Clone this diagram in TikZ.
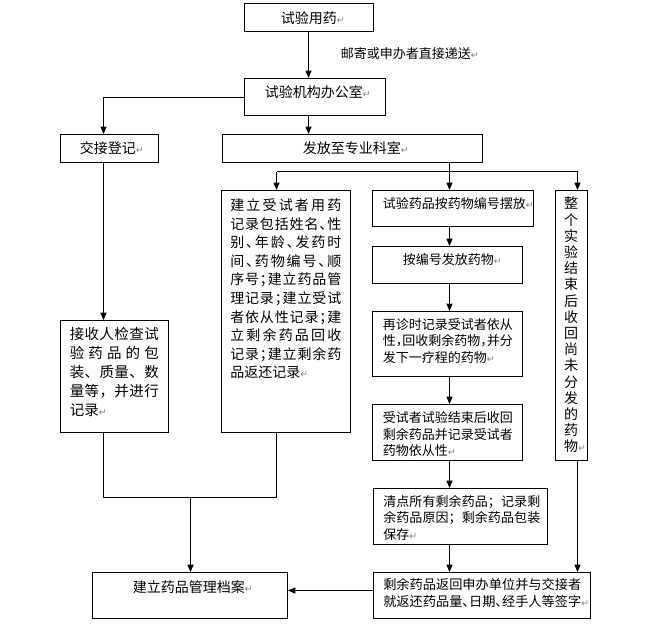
\documentclass[tikz,border=0pt]{standalone}
\usepackage{fontspec}
\setmainfont{Noto Sans CJK SC}
\newfontfamily\dejavu{DejaVu Sans}
\usetikzlibrary{arrows.meta,fit}
\makeatletter
\newcommand\jl[2]{\hbox to #1{\@tfor\jx:=#2\do{\jx\hfil}\unskip}}
\makeatother
\newcommand\ret{{\dejavu\fontsize{7pt}{7pt}\selectfont\color{gray}↵}}
\newcommand\ndun{\makebox[0.5em][l]{、}}
\newcommand\ndou{\makebox[0.5em][l]{，}}
\newcommand\nfen{\makebox[0.5em][l]{；}}
\begin{document}
\begin{tikzpicture}[x=0.75pt,y=-0.75pt,
  box/.style={draw, line width=0.75pt, inner sep=0pt},
  ln/.style={line width=0.75pt},
  arr/.style={ln, -{Triangle[length=5.5pt,width=4.5pt]}},
  txt/.style={inner sep=0pt, anchor=west},
  fbig/.style={font=\fontsize{10.5pt}{12pt}\selectfont},
  fsm/.style={font=\fontsize{9.75pt}{12.5pt}\selectfont},
]
\useasboundingbox (0,0) rectangle (650,626);
% boxes
\node[box, fit={(244.5,3.5)(373.5,31.5)}] (yao) {};
\node[box, fit={(244.5,78.5)(385.5,115.5)}] (ban) {};
\node[box, fit={(60.5,134.5)(158.5,162.5)}] (jiao) {};
\node[box, fit={(222.5,134.5)(482.5,162.5)}] (fa) {};
\node[box, fit={(221.5,190.5)(350.5,432.5)}] (jianli) {};
\node[box, fit={(372.5,190.5)(533.5,226.5)}] (bai) {};
\node[box, fit={(555.5,190.5)(587.5,460.5)}] (zheng) {};
\node[box, fit={(372.5,246.5)(522.5,283.5)}] (anbian) {};
\node[box, fit={(372.5,311.5)(522.5,376.5)}] (zaizhen) {};
\node[box, fit={(60.5,320.5)(168.5,432.5)}] (jieshou) {};
\node[box, fit={(372.5,404.5)(522.5,460.5)}] (shou) {};
\node[box, fit={(373.5,488.5)(547.5,544.5)}] (qing) {};
\node[box, fit={(92.5,572.5)(287.5,618.5)}] (dang) {};
\node[box, fit={(373.5,572.5)(590.5,618.5)}] (fan) {};
% texts
\node[txt,fbig] (yao-t) at (280.5,18.3) {试验用药\ret};
\node[txt,fsm] (lab) at (340.5,53.3) {邮寄或申办者直接递送\ret};
\node[txt,fbig] (ban-t) at (264.5,92.3) {试验机构办公室\ret};
\node[txt,fbig] (jiao-t) at (79.5,148.3) {交接登记\ret};
\node[txt,fbig] (fa-t) at (302.5,148.3) {发放至专业科室\ret};
\node[txt, font=\fontsize{10.875pt}{14.25pt}\selectfont] (jieshou-t) at (69.5,372.3)
  {\vbox{\baselineskip=14.25pt
   \jl{66.75pt}{接收人检查试}\jl{66.75pt}{验药品的包}\jl{66.75pt}{装、质量、数}\jl{66.75pt}{量等，并进行}\hbox{记录\ret}}};
\node[txt, font=\fontsize{10.5pt}{13.95pt}\selectfont] (jianli-t) at (230,288.9)
  {\vbox{\baselineskip=13.95pt
   \jl{83.25pt}{建立受试者用药}\jl{83.25pt}{记录包括姓名{\ndun}性}\jl{83.25pt}{别{\ndun}年龄{\ndun}发药时}\jl{83.25pt}{间{\ndun}药物编号{\ndun}顺}\jl{83.25pt}{序号{\nfen}建立药品管}\jl{83.25pt}{理记录{\nfen}建立受试}\jl{83.25pt}{者依从性记录{\nfen}建}\jl{83.25pt}{立剩余药品回收}\jl{83.25pt}{记录{\nfen}建立剩余药}\hbox{品返还记录\ret}}};
\node[txt,fsm] (bai-t) at (382.5,203.3) {试验药品按药物编号摆放\ret};
\node[txt,fsm] (anbian-t) at (402.5,259.3) {按编号发放药物\ret};
\node[txt,fsm] (zaizhen-t) at (382.5,341)
  {\vbox{\baselineskip=12.5pt\hbox{再诊时记录受试者依从}\hbox{性{\ndou}回收剩余药物{\ndou}并分}\hbox{发下一疗程的药物\ret}}};
\node[txt,fsm] (shou-t) at (382.5,434.3)
  {\vbox{\baselineskip=12.5pt\hbox{受试者试验结束后收回}\hbox{剩余药品并记录受试者}\hbox{药物依从性\ret}}};
\node[inner sep=0pt, font=\fontsize{10.5pt}{12.15pt}\selectfont] (zheng-t) at (571,325)
  {\vbox{\baselineskip=12.15pt\hbox{整}\hbox{个}\hbox{实}\hbox{验}\hbox{结}\hbox{束}\hbox{后}\hbox{收}\hbox{回}\hbox{尚}\hbox{未}\hbox{分}\hbox{发}\hbox{的}\hbox{药}\hbox{物\rlap{\ret}}}};
\node[txt, font=\fontsize{9.75pt}{12.5pt}\selectfont] (qing-t) at (383,517.7)
  {\vbox{\baselineskip=12.5pt\jl{117.75pt}{清点所有剩余药品；记录剩}\jl{117.75pt}{余药品原因；剩余药品包装}\hbox{保存\ret}}};
\node[txt, font=\fontsize{9.9pt}{13.3pt}\selectfont] (fan-t) at (383,592.85)
  {\vbox{\baselineskip=13.3pt\hbox{剩余药品返回申办单位并与交接者}\hbox{就返还药品量{\ndun}日期{\ndun}经手人等签字\ret}}};
\node[txt,fbig] (dang-t) at (132.5,586.7) {建立药品管理档案\ret};
% coordinates
\coordinate (cx) at (308.5,0);
\coordinate (cl) at (103.5,0);
\coordinate (cm) at (449.5,0);
\coordinate (yb) at (0,97.5);
\coordinate (bl) at (276.5,171.5);
\coordinate (bm) at (449.5,171.5);
\coordinate (br) at (577.5,171.5);
\coordinate (ml) at (103.5,497.5);
\coordinate (mr) at (276.5,497.5);
\coordinate (mm) at (190.5,497.5);
\coordinate (ya) at (0,590.5);
% connectors
\draw[arr] (yao.south -| cx) -- (ban.north -| cx);
\draw[arr] (ban.west |- yb) -| (jiao.north -| cl);
\draw[arr] (ban.south -| cx) -- (fa.north -| cx);
\draw[arr] (jiao.south -| cl) -- (jieshou.north -| cl);
\draw[ln] (fa.south -| bm) -- (bm);
\draw[ln] (bl) -- (br);
\draw[arr] (bl) -- (jianli.north -| bl);
\draw[arr] (bm) -- (bai.north -| bm);
\draw[arr] (br) -- (zheng.north -| br);
\draw[arr] (bai.south -| cm) -- (anbian.north -| cm);
\draw[arr] (anbian.south -| cm) -- (zaizhen.north -| cm);
\draw[arr] (zaizhen.south -| cm) -- (shou.north -| cm);
\draw[arr] (shou.south -| cm) -- (qing.north -| cm);
\draw[arr] (qing.south -| cm) -- (fan.north -| cm);
\draw[ln] (jieshou.south -| cl) -- (ml) -- (mr) -- (jianli.south -| mr);
\draw[arr] (mm) -- (dang.north -| mm);
\draw[arr] (zheng.south -| br) -- (fan.north -| br);
\draw[arr] (fan.west |- ya) -- (dang.east |- ya);
\end{tikzpicture}
\end{document}
